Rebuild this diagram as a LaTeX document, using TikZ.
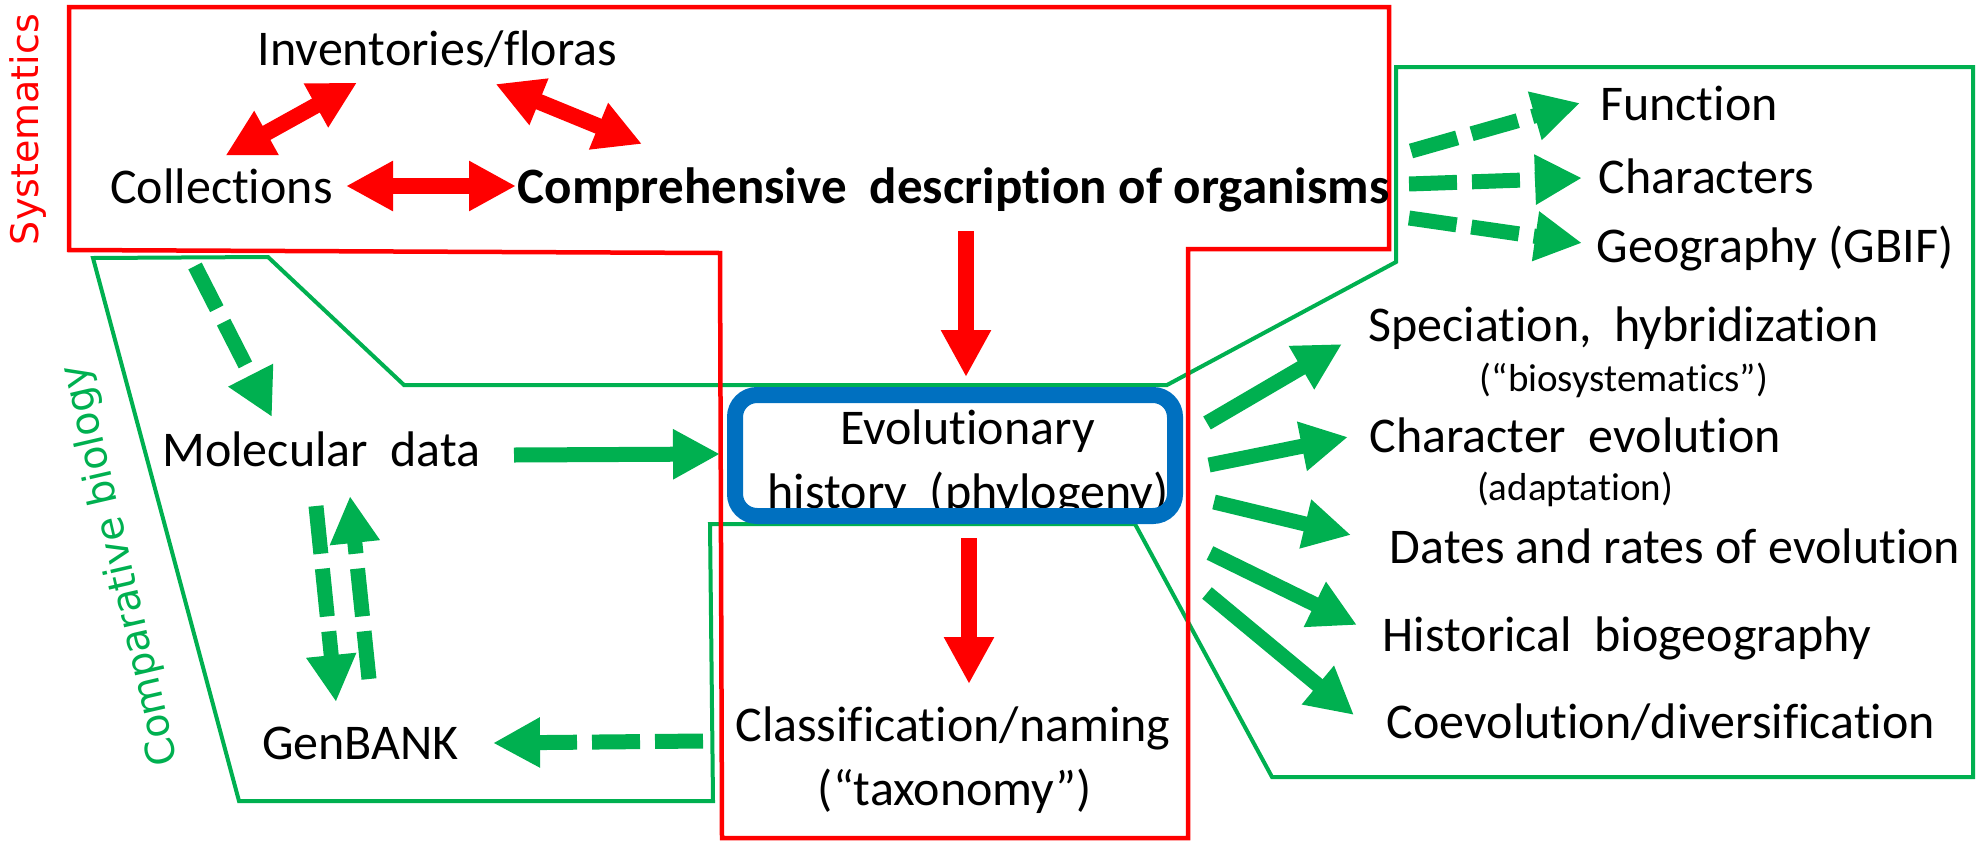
\documentclass[tikz,border=0pt]{standalone}
\usepackage{fontspec}
\setmainfont{Carlito}[Ligatures=NoCommon]
\newfontfamily\labelfont{DejaVu Sans}
\usetikzlibrary{arrows.meta}
\definecolor{sysred}{RGB}{255,0,0}
\definecolor{cmpgreen}{RGB}{0,176,80}
\definecolor{evoblue}{RGB}{0,112,192}

\begin{document}
\begin{tikzpicture}[x=1pt,y=-1pt,
  txt/.style={inner sep=0pt, anchor=base, font=\fontsize{50}{60}\selectfont},
  small/.style={inner sep=0pt, anchor=base, font=\fontsize{39}{47}\selectfont},
  sidelabel/.style={inner sep=0pt, font=\labelfont\fontsize{38}{46}\selectfont},
  region/.style={line width=4.5pt, line join=miter},
  redarrow/.style={draw=sysred, line width=16pt, -{Triangle[length=47pt,width=47pt]}},
  redboth/.style={draw=sysred, line width=16pt, {Triangle[length=47pt,width=47pt]}-{Triangle[length=47pt,width=47pt]}},
  grnarrow/.style={draw=cmpgreen, line width=15pt, -{Triangle[length=47pt,width=47pt]}},
  grndash/.style={grnarrow, dash pattern=on 48pt off 15pt},
]
\useasboundingbox (0,0) rectangle (1983,841);

% regions: comparative biology (green) and systematics (red)
\draw[region, draw=cmpgreen, line width=4pt] (93,258) -- (268,257) -- (404,385) -- (1167,385)
  -- (1396,262) -- (1396,67) -- (1973,67) -- (1973,777) -- (1272,777) -- (1135,524)
  -- (710,524) -- (713,801) -- (239,801) -- cycle;
\draw[region, draw=sysred] (69,7) -- (1389,7) -- (1389,249) -- (1188,249) -- (1188,838)
  -- (722,838) -- (720,253) -- (69,250) -- cycle;

% region labels
\node[sidelabel, rotate=90, text=sysred] (sys) at (28.5,129.5) {Systematics};
\node[sidelabel, rotate=103, text=cmpgreen, font=\labelfont\fontsize{39.5}{47}\selectfont] (cmp) at (121,565) {Comparative biology};

% systematics
\node[txt] (inv) at (437.5,65) {Inventories/floras};
\node[txt] (coll) at (221.5,203) {Collections};
\node[txt, font=\fontsize{51}{61}\selectfont\bfseries] (comp) at (953.5,203) {Comprehensive\ \ description of organisms};

% left column
\node[txt] (mol) at (321.5,466) {Molecular\ \ data};
\node[txt] (gen) at (360.5,759) {GenBANK};

% centre column: the blue frame is drawn over the text
\node[txt] (evo1) at (967.5,444) {Evolutionary};
\node[txt] (evo2) at (968,508) {history\ \ (phylogeny)};
\node[draw=evoblue, line width=16pt, rounded corners=22pt, minimum width=440pt,
      minimum height=121pt, inner sep=0pt] (evo) at (955,455.5) {};
\node[txt] (cls1) at (953,741) {Classification/naming};
\node[txt] (cls2) at (955,805) {(“taxonomy”)};

% right column, top
\node[txt] (fun) at (1689,120) {Function};
\node[txt] (chr) at (1706.5,193) {Characters};
\node[txt] (geo) at (1775,262) {Geography (GBIF)};

% right column, evolutionary questions
\node[txt] (spc) at (1623.5,341) {Speciation,\ \ hybridization};
\node[small] (bio) at (1624,391) {(“biosystematics”)};
\node[txt] (che) at (1575,452) {Character\ \ evolution};
\node[small] (ada) at (1575,500) {(adaptation)};
\node[txt] (dat) at (1675,563) {Dates and rates of evolution};
\node[txt] (his) at (1627,651) {Historical\ \ biogeography};
\node[txt] (coe) at (1661,738) {Coevolution/diversification};

% connector end points
\coordinate (coll-ne) at (225.4,155.7);
\coordinate (inv-sw) at (357,82.7);
\coordinate (inv-se) at (495.5,84);
\coordinate (comp-nw) at (642,144);
\coordinate (coll-e) at (346,186);
\coordinate (comp-w) at (516,186);
\coordinate (comp-s) at (966,231);
\coordinate (evo-n) at (966,377);
\coordinate (evo-s) at (969,538);
\coordinate (cls-n) at (969,684);
\coordinate (mol-e) at (514,455);
\coordinate (evo-w) at (720,454);
\coordinate (coll-s) at (195,266);
\coordinate (mol-n) at (272,417);
\coordinate (mol-s1) at (316,506);
\coordinate (gen-n1) at (336,702);
\coordinate (gen-n2) at (369,679);
\coordinate (mol-s2) at (350,496);
\coordinate (cls-w) at (703,741);
\coordinate (gen-e) at (493,743);
\coordinate (comp-e1) at (1411,151);
\coordinate (fun-w) at (1580,103);
\coordinate (comp-e2) at (1409,184);
\coordinate (chr-w) at (1582,178);
\coordinate (comp-e3) at (1409,218);
\coordinate (geo-w) at (1582,243);
\coordinate (evo-e1) at (1207,423);
\coordinate (spc-w) at (1342,344);
\coordinate (evo-e2) at (1209,465);
\coordinate (che-w) at (1348,437);
\coordinate (evo-e3) at (1214,502);
\coordinate (dat-w) at (1351,535);
\coordinate (evo-e4) at (1210,553);
\coordinate (his-w) at (1357,625);
\coordinate (evo-e5) at (1207,593);
\coordinate (coe-w) at (1354,715);

% systematics links
\draw[redboth] (coll-ne) -- (inv-sw);
\draw[redboth] (inv-se) -- (comp-nw);
\draw[redboth] (coll-e) -- (comp-w);
\draw[redarrow] (comp-s) -- (evo-n);
\draw[redarrow] (evo-s) -- (cls-n);

% comparative biology links
\draw[grnarrow] (mol-e) -- (evo-w);
\draw[grndash] (coll-s) -- (mol-n);
\draw[grndash] (mol-s1) -- (gen-n1);
\draw[grndash] (gen-n2) -- (mol-s2);
\draw[grndash] (cls-w) -- (gen-e);
\draw[grndash] (comp-e1) -- (fun-w);
\draw[grndash] (comp-e2) -- (chr-w);
\draw[grndash] (comp-e3) -- (geo-w);
\draw[grnarrow] (evo-e1) -- (spc-w);
\draw[grnarrow] (evo-e2) -- (che-w);
\draw[grnarrow] (evo-e3) -- (dat-w);
\draw[grnarrow] (evo-e4) -- (his-w);
\draw[grnarrow] (evo-e5) -- (coe-w);
\end{tikzpicture}
\end{document}
